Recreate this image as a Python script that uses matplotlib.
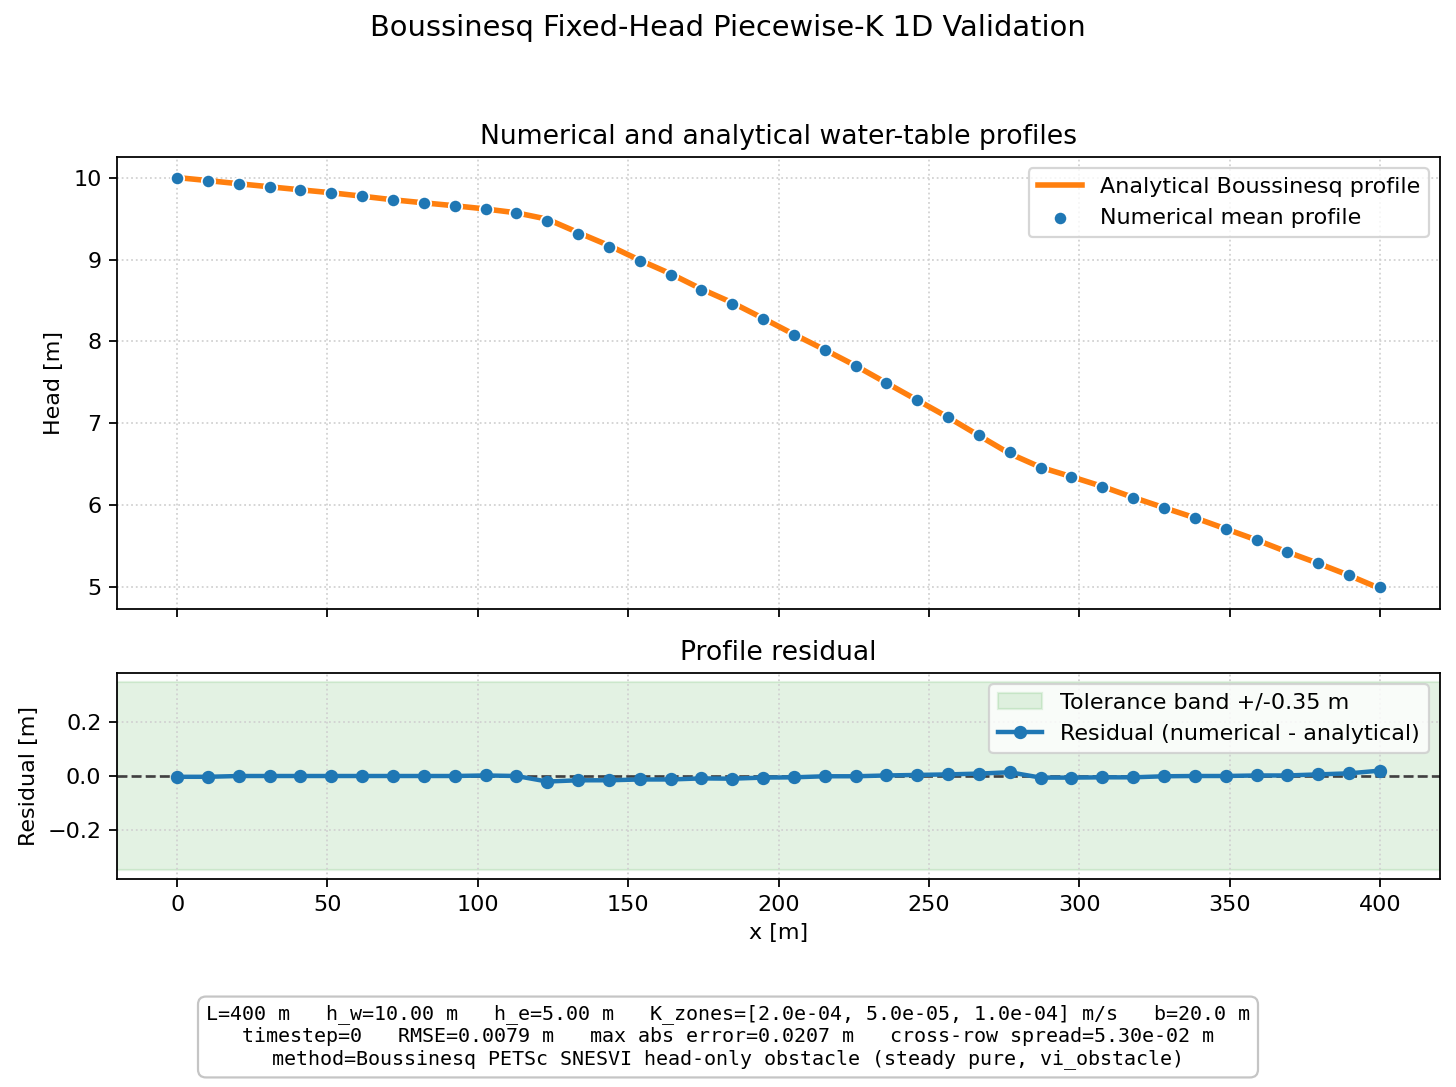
import numpy as np
import matplotlib
matplotlib.use("Agg")
import matplotlib.pyplot as plt

# ---- data ----
n_nodes = 40
length_m = 400.0
x_m = np.linspace(0.0, length_m, n_nodes)

head_numerical = [
    10.000, 9.963, 9.927, 9.890, 9.853, 9.817, 9.775, 9.731, 9.694, 9.658,
    9.621, 9.572, 9.474, 9.315, 9.156, 8.980, 8.814, 8.631, 8.463, 8.276,
    8.081, 7.897, 7.702, 7.494, 7.286, 7.078, 6.858, 6.642, 6.455, 6.340,
    6.222, 6.088, 5.966, 5.844, 5.709, 5.575, 5.428, 5.293, 5.150, 5.000,
]
residual = [
    -0.003, -0.003, 0.000, 0.000, 0.000, 0.000, 0.000, 0.000, 0.000, 0.000,
    0.002, 0.000, -0.0207, -0.016, -0.016, -0.013, -0.013, -0.009, -0.010, -0.006,
    -0.005, -0.001, -0.001, 0.002, 0.004, 0.006, 0.009, 0.014, -0.006, -0.006,
    -0.005, -0.005, -0.001, 0.000, 0.000, 0.002, 0.002, 0.006, 0.010, 0.020,
]
tolerance = 0.35

head_numerical = np.array(head_numerical)
residual = np.array(residual)
head_analytical = head_numerical - residual

info_text = (
    "L=400 m   h_w=10.00 m   h_e=5.00 m   K_zones=[2.0e-04, 5.0e-05, 1.0e-04] m/s   b=20.0 m\n"
    "timestep=0   RMSE=0.0079 m   max abs error=0.0207 m   cross-row spread=5.30e-02 m\n"
    "method=Boussinesq PETSc SNESVI head-only obstacle (steady pure, vi_obstacle)"
)

# ---- figure ----
W, H, DPI = 1456, 1087, 160
fig = plt.figure(figsize=(W / DPI, H / DPI), dpi=DPI)

def frac(l, t, r, b):
    return [l / W, 1 - b / H, (r - l) / W, (b - t) / H]

ax1 = fig.add_axes(frac(117, 157, 1440, 609))
ax2 = fig.add_axes(frac(117, 673, 1440, 879), sharex=ax1)

ax1.plot(x_m, head_analytical, color="#ff7f0e", lw=2.5, label="Analytical Boussinesq profile", zorder=2)
ax1.scatter(x_m, head_numerical, s=36, color="#1f77b4", edgecolor="white", linewidth=0.8,
            label="Numerical mean profile", zorder=3)
ax1.set_ylabel("Head [m]")
ax1.set_title("Numerical and analytical water-table profiles")
ax1.grid(True, linestyle=":", color="0.82", lw=0.8)
ax1.legend(loc="upper right")
ax1.tick_params(labelbottom=False)

ax2.axhspan(-tolerance, tolerance, color="#2ca02c", alpha=0.13,
            label=f"Tolerance band +/-{tolerance:.2f} m")
ax2.axhline(0.0, color="0.25", ls="--", lw=1.2)
ax2.plot(x_m, residual, color="#1f77b4", lw=2, marker="o", ms=5,
         label="Residual (numerical - analytical)")
ax2.set_ylabel("Residual [m]")
ax2.set_xlabel("x [m]")
ax2.set_title("Profile residual")
ax2.grid(True, linestyle=":", color="0.82", lw=0.8)
ax2.legend(loc="upper right")
ax2.set_xlim(-20, 420)

fig.suptitle("Boussinesq Fixed-Head Piecewise-K 1D Validation", fontsize=13, y=1 - 28 / H, va="center")

fig.text(0.5, 1 - 1037 / H, info_text, ha="center", va="center", family="DejaVu Sans Mono",
         fontsize=9, linespacing=1.2,
         bbox=dict(boxstyle="round,pad=0.4", facecolor="white", edgecolor="0.75", alpha=0.9))

fig.savefig("out.png", dpi=DPI)
